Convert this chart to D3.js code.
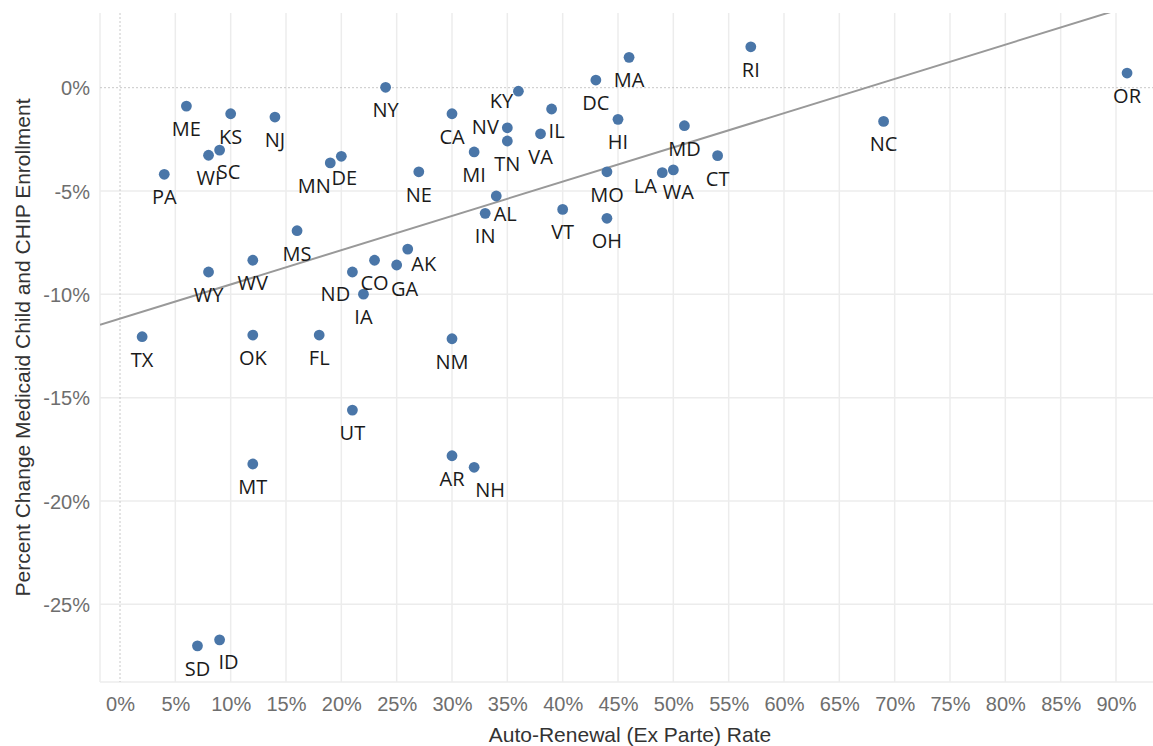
<!DOCTYPE html>
<html>
<head>
<meta charset="utf-8">
<script src="https://cdn.jsdelivr.net/npm/d3@7"></script>
<style>
  body { margin: 0; background: #fff; }
  #chart svg { display: block; }
</style>
</head>
<body>
<div id="chart"></div>
<script>
const width = 1153;
const height = 746;

// data
const states = ["ME","PA","WI","SC","KS","NJ","MN","DE","NY","MS",
  "CA","KY","NV","TN","IL","VA","MI","NE","AL","IN",
  "VT","MO","OH","DC","MA","HI","MD","LA","WA","CT",
  "RI","NC","OR","WY","WV","TX","OK","FL","ND","CO",
  "IA","UT","MT","GA","AK","NM","AR","NH","SD","ID"];
const autoRenewal = [6,4,8,9,10,14,19,20,24,16,
  30,36,35,35,39,38,32,27,34,33,
  40,44,44,43,46,45,51,49,50,54,
  57,69,91,8,12,2,12,18,21,23,
  22,21,12,25,26,30,30,32,7,9];
const enrollChange = [-0.89,-4.19,-3.27,-3.02,-1.26,-1.42,-3.64,-3.32,0.02,-6.92,
  -1.26,-0.17,-1.94,-2.58,-1.03,-2.23,-3.11,-4.07,-5.24,-6.08,
  -5.89,-4.07,-6.32,0.37,1.47,-1.53,-1.84,-4.11,-3.98,-3.29,
  1.98,-1.63,0.71,-8.92,-8.35,-12.05,-11.97,-11.97,-8.92,-8.35,
  -9.99,-15.6,-18.21,-8.58,-7.81,-12.15,-17.81,-18.37,-27.01,-26.72];

const xTicks = d3.range(0, 91, 5);
const yTicks = [0, -5, -10, -15, -20, -25];

// label placement tweaks (pixels), default is straight below the dot
const labelNudge = {
  KY: [-17, 17], NV: [-22, 6], AL: [9, 25], LA: [-17, 20], WA: [5, 29],
  MN: [-16, 30], SC: [9, 29], ND: [-17, 29], GA: [8, 31], AK: [16, 22],
  NH: [16, 30], ID: [9, 29], IL: [5, 29], DE: [3, 29]
};

const data = states.map((s, i) => ({ state: s, x: autoRenewal[i], y: enrollChange[i] }));

const panel = { left: 100, right: 1160, top: 13, bottom: 682 };

const xScale = d3.scaleLinear().domain([0, 90]).range([120, 1116]);
const yScale = d3.scaleLinear().domain([0, -25]).range([87.7, 604.3]);

const svg = d3
  .select("#chart")
  .append("svg")
  .attr("width", width)
  .attr("height", height);

svg.append("defs")
  .append("clipPath")
  .attr("id", "panel-clip")
  .append("rect")
  .attr("x", panel.left)
  .attr("y", panel.top)
  .attr("width", panel.right - panel.left)
  .attr("height", panel.bottom - panel.top);

const grid = svg.append("g").attr("class", "grid");

grid.selectAll("line.vgrid")
  .data(xTicks.filter((d) => d !== 0))
  .enter()
  .append("line")
  .attr("x1", (d) => xScale(d))
  .attr("x2", (d) => xScale(d))
  .attr("y1", panel.top)
  .attr("y2", panel.bottom)
  .style("stroke", "#ececec")
  .style("stroke-width", 1.5);

grid.selectAll("line.hgrid")
  .data(yTicks.filter((d) => d !== 0))
  .enter()
  .append("line")
  .attr("x1", panel.left)
  .attr("x2", panel.right)
  .attr("y1", (d) => yScale(d))
  .attr("y2", (d) => yScale(d))
  .style("stroke", "#ececec")
  .style("stroke-width", 1.5);

// panel edges
grid.append("line")
  .attr("x1", panel.left).attr("x2", panel.left)
  .attr("y1", panel.top).attr("y2", panel.bottom)
  .style("stroke", "#ececec").style("stroke-width", 1.5);
grid.append("line")
  .attr("x1", panel.left).attr("x2", panel.right)
  .attr("y1", panel.bottom).attr("y2", panel.bottom)
  .style("stroke", "#ececec").style("stroke-width", 1.5);

// zero reference lines
grid.append("line")
  .attr("x1", xScale(0)).attr("x2", xScale(0))
  .attr("y1", panel.top).attr("y2", panel.bottom)
  .style("stroke", "#c8c8c8").style("stroke-dasharray", "2,2");
grid.append("line")
  .attr("x1", panel.left).attr("x2", panel.right)
  .attr("y1", yScale(0)).attr("y2", yScale(0))
  .style("stroke", "#c8c8c8").style("stroke-dasharray", "2,2");

// linear fit
const mx = d3.mean(data, (d) => d.x);
const my = d3.mean(data, (d) => d.y);
const slope = d3.sum(data, (d) => (d.x - mx) * (d.y - my)) / d3.sum(data, (d) => (d.x - mx) ** 2);
const intercept = my - slope * mx;
const xEnds = [xScale.invert(panel.left), xScale.invert(panel.right)];

svg.append("line")
  .attr("clip-path", "url(#panel-clip)")
  .attr("x1", xScale(xEnds[0]))
  .attr("y1", yScale(intercept + slope * xEnds[0]))
  .attr("x2", xScale(xEnds[1]))
  .attr("y2", yScale(intercept + slope * xEnds[1]))
  .style("stroke", "#999")
  .style("stroke-width", 2);

svg.selectAll("circle.dot")
  .data(data)
  .enter()
  .append("circle")
  .attr("class", "dot")
  .attr("cx", (d) => xScale(d.x))
  .attr("cy", (d) => yScale(d.y))
  .attr("r", 5.4)
  .style("fill", "#4a76a8");

svg.selectAll("text.label")
  .data(data)
  .enter()
  .append("text")
  .attr("class", "label")
  .attr("x", (d) => xScale(d.x) + (labelNudge[d.state] ? labelNudge[d.state][0] : 0))
  .attr("y", (d) => yScale(d.y) + (labelNudge[d.state] ? labelNudge[d.state][1] : 30))
  .attr("text-anchor", "middle")
  .style("font-family", "'Open Sans', sans-serif")
  .style("font-size", "20px")
  .style("fill", "#1a1a1a")
  .text((d) => d.state);

// axes
const xAxis = d3.axisBottom(xScale).tickValues(xTicks).tickSize(0).tickPadding(0)
  .tickFormat((d) => d + "%");
const yAxis = d3.axisLeft(yScale).tickValues(yTicks).tickSize(0).tickPadding(0)
  .tickFormat((d) => d + "%");

const gx = svg.append("g")
  .attr("id", "x-axis")
  .attr("transform", "translate(0," + 711 + ")")
  .call(xAxis);
gx.select(".domain").remove();
gx.selectAll("text")
  .attr("dy", 0)
  .style("font-family", "'Liberation Sans', Arial, sans-serif")
  .style("font-size", "20px")
  .style("fill", "#6e6e6e");

const gy = svg.append("g")
  .attr("id", "y-axis")
  .attr("transform", "translate(90,0)")
  .call(yAxis);
gy.select(".domain").remove();
gy.selectAll("text")
  .attr("dy", "0.36em")
  .style("font-family", "'Liberation Sans', Arial, sans-serif")
  .style("font-size", "20px")
  .style("fill", "#6e6e6e");

svg.append("text")
  .attr("x", 630)
  .attr("y", 742)
  .attr("text-anchor", "middle")
  .style("font-family", "'Liberation Sans', Arial, sans-serif")
  .style("font-size", "21px")
  .style("fill", "#333")
  .text("Auto-Renewal (Ex Parte) Rate");

svg.append("text")
  .attr("transform", "translate(30," + (panel.top + panel.bottom) / 2 + ") rotate(-90)")
  .attr("text-anchor", "middle")
  .style("font-family", "'Liberation Sans', Arial, sans-serif")
  .style("font-size", "21px")
  .style("fill", "#333")
  .text("Percent Change Medicaid Child and CHIP Enrollment");
</script>
</body>
</html>
